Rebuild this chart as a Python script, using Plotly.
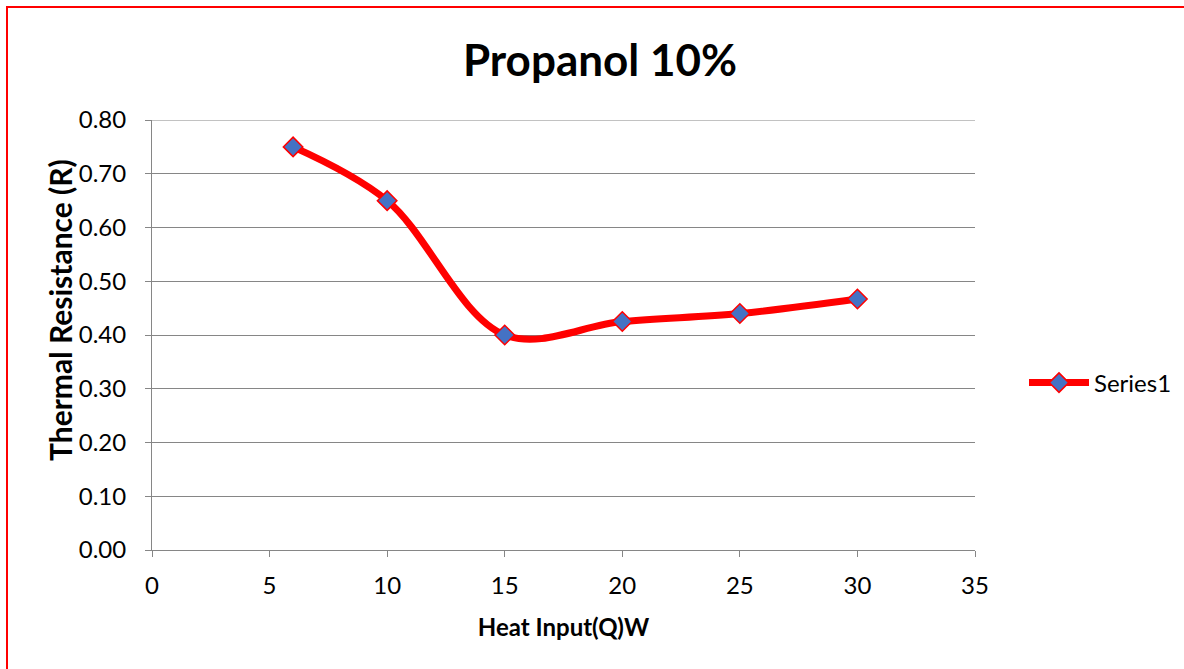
import plotly.graph_objects as go

heat_input = [6, 10, 15, 20, 25, 30]
thermal_resistance = [0.75, 0.65, 0.40, 0.425, 0.44, 0.467]
series_name = "Series1"
x_ticks = [0, 5, 10, 15, 20, 25, 30, 35]
y_ticks = [0.0, 0.1, 0.2, 0.3, 0.4, 0.5, 0.6, 0.7, 0.8]

FONT = "Lato"

fig = go.Figure()
fig.add_trace(go.Scatter(
    x=heat_input, y=thermal_resistance, name=series_name,
    mode="lines+markers",
    line=dict(color="#FF0000", width=7, shape="spline", smoothing=1.0),
    marker=dict(symbol="diamond", size=15, color="#4472C4",
                line=dict(color="#FF0000", width=1.5)),
))

L, R, T, B = 152, 209, 120, 119
W, H = 1184, 669
pw, ph = W - L - R, H - T - B

def px2x(px):
    return (px - L) / pw

def py2y(py):
    return (H - B - py) / ph

fig.update_layout(
    width=W, height=H,
    margin=dict(l=L, r=R, t=T, b=B, autoexpand=False),
    paper_bgcolor="white", plot_bgcolor="white",
    font=dict(family=FONT, size=24, color="#000000"),
    title=dict(text="<b>Propanol 10%</b>", font=dict(family=FONT, size=44, color="#000000"),
               x=600 / W, xanchor="center", y=1 - 61 / H, yanchor="middle"),
    showlegend=True,
    legend=dict(x=px2x(1024), y=py2y(383), xanchor="left", yanchor="middle",
                font=dict(family=FONT, size=24), bgcolor="rgba(0,0,0,0)",
                itemwidth=60),
    xaxis=dict(range=[0, 35], tickvals=x_ticks, ticktext=[str(v) for v in x_ticks],
               showgrid=False, zeroline=False, showline=True, linecolor="#868686", linewidth=1,
               ticks="outside", ticklen=6, tickcolor="#868686", ticklabelstandoff=8,
               title=dict(text="<b>Heat Input(Q)W</b>", font=dict(family=FONT, size=24), standoff=21),
               tickfont=dict(family=FONT, size=24)),
    yaxis=dict(range=[0, 0.8], tickvals=y_ticks, ticktext=[f"{v:.2f}" for v in y_ticks],
               showgrid=True, gridcolor="#868686", gridwidth=1, zeroline=False,
               showline=True, linecolor="#868686", linewidth=1,
               ticks="outside", ticklen=6, tickcolor="#868686", ticklabelstandoff=14,
               tickfont=dict(family=FONT, size=24)),
    annotations=[dict(text="<b>Thermal Resistance (R)</b>", textangle=-90,
                      xref="paper", yref="paper", x=px2x(60), y=py2y(310),
                      xanchor="center", yanchor="middle", showarrow=False,
                      font=dict(family=FONT, size=30, color="#000000"))],
    shapes=[
        dict(type="line", xref="x", yref="y", x0=x_ticks[0], x1=x_ticks[-1],
             y0=y_ticks[-1], y1=y_ticks[-1], line=dict(color="#868686", width=1), layer="below"),
        dict(type="rect", xref="paper", yref="paper",
             x0=px2x(7), x1=px2x(1195), y0=py2y(690), y1=py2y(7),
             line=dict(color="#FF0000", width=2), fillcolor="rgba(0,0,0,0)", layer="below"),
    ],
)

fig.write_html("out.html")
